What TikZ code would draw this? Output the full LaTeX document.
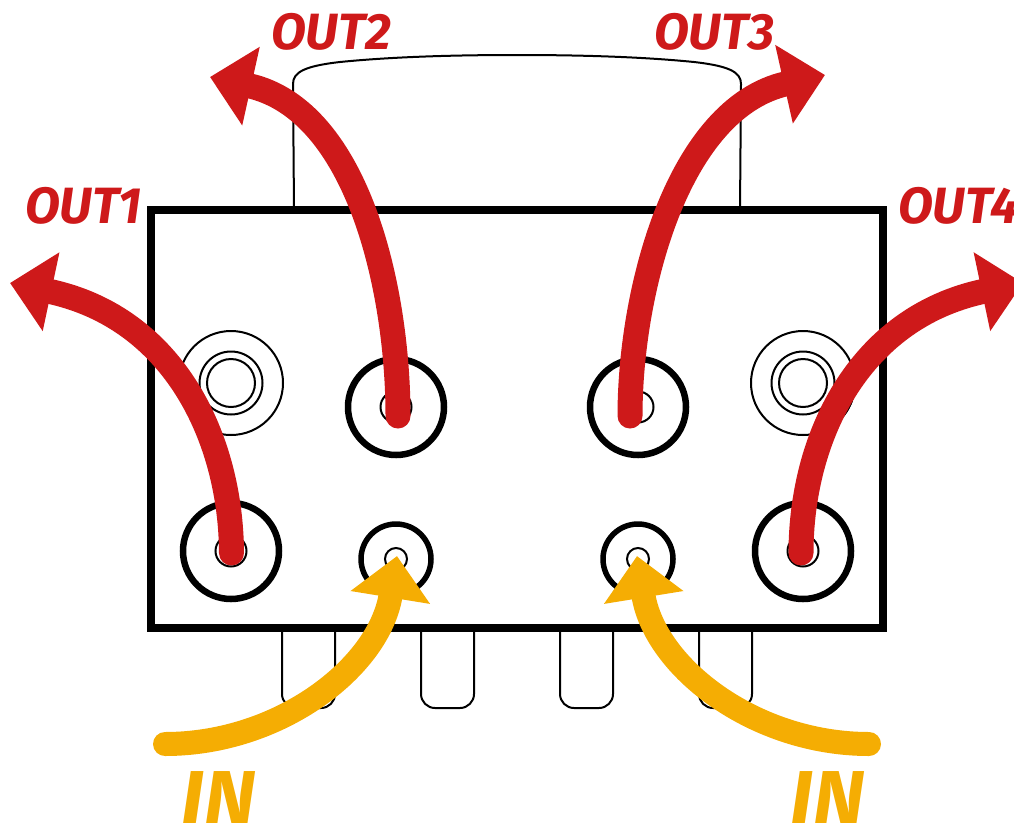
\documentclass[tikz,border=0pt]{standalone}
\usepackage{fontspec}
\setmainfont{Fira Sans}
\usepackage{xcolor}
\definecolor{flowred}{RGB}{206, 25, 26}
\definecolor{flowyellow}{RGB}{245, 173, 3}
\usetikzlibrary{arrows.meta, positioning}
\tikzset{
    port/.style={circle, draw=black, line width=6.5pt, fill=white, minimum size=96pt, inner sep=0pt},
    smallport/.style={circle, draw=black, line width=5.5pt, fill=white, minimum size=70pt, inner sep=0pt},
    hole/.style={circle, draw=black, line width=2pt, minimum size=31pt, inner sep=0pt},
    smallhole/.style={circle, draw=black, line width=2pt, minimum size=22pt, inner sep=0pt},
    thinline/.style={draw=black, line width=2pt},
    outflow/.style={flowred, line width=25pt, line cap=round, -{Triangle[length=42pt, width=78pt]}},
    inflow/.style={flowyellow, line width=24pt, line cap=round, -{Triangle[length=42pt, width=78pt]}},
    outlabel/.style={flowred, font=\bfseries\itshape\fontsize{51}{51}\selectfont, inner sep=0pt},
    inlabel/.style={flowyellow, font=\bfseries\itshape\fontsize{75}{75}\selectfont\addfontfeature{FakeStretch=1.05}, inner sep=0pt}
}

\begin{document}
\begin{tikzpicture}[x=1pt, y=-1pt]
    \useasboundingbox (0, 0) rectangle (1014, 825);

    % cover behind the block
    \draw[thinline] (294, 210) -- (293, 84) .. controls (293, 72) and (305, 66) .. (340, 62)
        .. controls (390, 57) and (450, 55) .. (517, 55)
        .. controls (584, 55) and (644, 57) .. (694, 62)
        .. controls (729, 66) and (741, 72) .. (741, 84) -- (740, 210);

    % tabs below the block
    \foreach \tabx in {282, 421, 560, 699} {
        \draw[thinline, rounded corners=14pt] (\tabx, 628) -- (\tabx, 708) -- (\tabx+53, 708) -- (\tabx+53, 628);
    }

    \draw[black, line width=7.5pt] (151, 210) rectangle (883, 628);

    % mounting holes
    \foreach \mountx/\mountname in {231/mountl, 803/mountr} {
        \node[circle, thinline, minimum size=104pt, inner sep=0pt] (\mountname) at (\mountx, 383) {};
        \node[circle, thinline, minimum size=63pt, inner sep=0pt] at (\mountname) {};
        \node[circle, thinline, minimum size=48pt, inner sep=0pt] at (\mountname) {};
    }
    \draw[black, line width=4pt] (mountl) ++(125:51) arc (125:160:51);
    \draw[black, line width=4pt] (mountr) ++(55:51) arc (55:20:51);

    % ports
    \node[port] (p1) at (231, 551) {};
    \node[port] (p2) at (396, 407) {};
    \node[port] (p3) at (638, 407) {};
    \node[port] (p4) at (803, 551) {};
    \node[smallport] (inl) at (396, 559) {};
    \node[smallport] (inr) at (638, 559) {};
    \node[hole] at (p1) {};
    \node[hole] at (p2) {};
    \node[hole] at (p3) {};
    \node[hole] at (p4) {};
    \node[smallhole] at (inl) {};
    \node[smallhole] at (inr) {};

    % free ends of the flows
    \coordinate (t1) at (10, 283);
    \coordinate (t2) at (210, 77);
    \coordinate (t3) at (825, 75);
    \coordinate (t4) at (1023, 283);
    \coordinate (sl) at (165, 744);
    \coordinate (sr) at (869, 744);
    \coordinate (tl) at (397, 556);
    \coordinate (tr) at (637, 556);
    \coordinate (s1) at (231.5, 553);
    \coordinate (s2) at (398, 416);
    \coordinate (s3) at (630, 416);
    \coordinate (s4) at (801, 553);

    \draw[outflow] (s1) .. controls (231, 440) and (175, 318) .. (t1);
    \draw[outflow] (s2) .. controls (398, 290) and (358, 110) .. (t2);
    \draw[outflow] (s3) .. controls (630, 290) and (678, 108) .. (t3);
    \draw[outflow] (s4) .. controls (801, 440) and (857, 318) .. (t4);
    \draw[inflow] (sl) .. controls (280, 744) and (379, 667) .. (tl);
    \draw[inflow] (sr) .. controls (754, 744) and (655, 667) .. (tr);

    \node[outlabel, anchor=base west] (out1) at (25, 223) {OUT1};
    \node[outlabel, anchor=base west] (out2) at (271, 49) {OUT2};
    \node[outlabel, anchor=base west] (out3) at (654, 49) {OUT3};
    \node[outlabel, anchor=base west] (out4) at (898, 223) {OUT4};
    \node[inlabel, anchor=base west] (inlabell) at (181, 823) {IN};
    \node[inlabel, anchor=base west] (inlabelr) at (790, 823) {IN};
\end{tikzpicture}
\end{document}
